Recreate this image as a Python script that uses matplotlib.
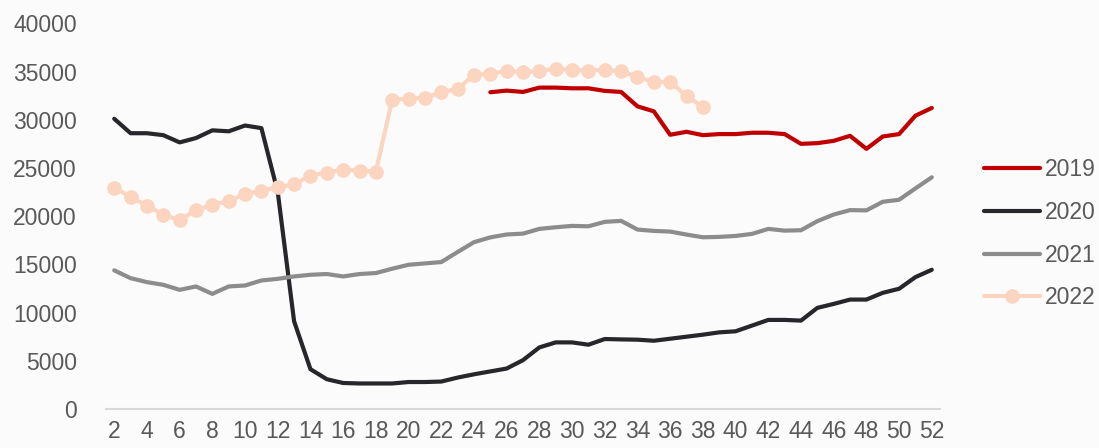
import numpy as np
import matplotlib.pyplot as plt

plt.rcParams['font.family'] = ['Liberation Sans', 'DejaVu Sans']

# weekly values, week 2..52
weeks = list(range(2, 53))

y2019_weeks = list(range(25, 53))
y2019 = [32850, 33020, 32880, 33330, 33330, 33260, 33260, 32990, 32880, 31390,
         30870, 28440, 28750, 28400, 28510, 28510, 28650, 28650, 28510, 27500,
         27570, 27810, 28330, 26980, 28260, 28510, 30420, 31220]

y2020 = [30100, 28600, 28600, 28400, 27650, 28100, 28900, 28800, 29400, 29130,
         22500, 9100, 4130, 3090, 2700, 2650, 2650, 2650, 2800, 2800,
         2850, 3260, 3600, 3900, 4200, 5070, 6390, 6910, 6910, 6670,
         7260, 7220, 7190, 7080, 7290, 7500, 7710, 7950, 8060, 8650,
         9240, 9240, 9170, 10490, 10900, 11350, 11350, 12050, 12470, 13680,
         14440]

y2021 = [14380, 13570, 13160, 12880, 12360, 12710, 11940, 12710, 12810, 13330,
         13500, 13750, 13920, 14000, 13750, 14000, 14100, 14550, 14960, 15100,
         15240, 16280, 17300, 17800, 18100, 18190, 18680, 18850, 18990, 18950,
         19410, 19510, 18610, 18470, 18400, 18090, 17810, 17850, 17950, 18160,
         18680, 18500, 18540, 19480, 20170, 20625, 20600, 21490, 21700, 22880,
         24030]

y2022_weeks = list(range(2, 39))
y2022 = [22950, 22010, 21080, 20170, 19580, 20630, 21180, 21560, 22290, 22640,
         22990, 23300, 24200, 24520, 24830, 24730, 24630, 32080, 32190, 32260,
         32880, 33190, 34650, 34790, 35040, 34940, 35040, 35310, 35170, 35100,
         35170, 35040, 34440, 33890, 33960, 32430, 31350]

fig = plt.figure(figsize=(10.99, 4.48), dpi=100, facecolor='#fbfbfb')
ax = fig.add_axes([0.0965, 0.087, 0.7588, 0.861])
ax.set_facecolor('#fbfbfb')

ax.plot(y2019_weeks, y2019, color='#c00000', lw=3, label='2019', solid_capstyle='round')
ax.plot(weeks, y2020, color='#26262b', lw=3, label='2020', solid_capstyle='round')
ax.plot(weeks, y2021, color='#8c8c8c', lw=3, label='2021', solid_capstyle='round')
ax.plot(y2022_weeks, y2022, color='#fcd5c0', lw=3, marker='o', markersize=9.5,
        label='2022', solid_capstyle='round')

ax.set_xlim(1.5, 52.5)
ax.set_ylim(0, 40000)
ax.set_xticks(range(2, 53, 2))
ax.set_yticks(range(0, 40001, 5000))
ax.tick_params(length=0, labelsize=16.5, colors='#595959', pad=8)
ax.tick_params(axis='y', pad=21)

for s in ['top', 'right', 'left']:
    ax.spines[s].set_visible(False)
ax.spines['bottom'].set_color('#d9d9d9')
ax.spines['bottom'].set_linewidth(1.5)

leg = ax.legend(loc='center left', bbox_to_anchor=(0.887, 0.478), bbox_transform=fig.transFigure,
                frameon=False, fontsize=16.5, handlelength=2.45, handletextpad=0.2,
                labelspacing=0.86, borderaxespad=0)
for t in leg.get_texts():
    t.set_color('#595959')

fig.savefig('out.png', dpi=100, facecolor=fig.get_facecolor())
